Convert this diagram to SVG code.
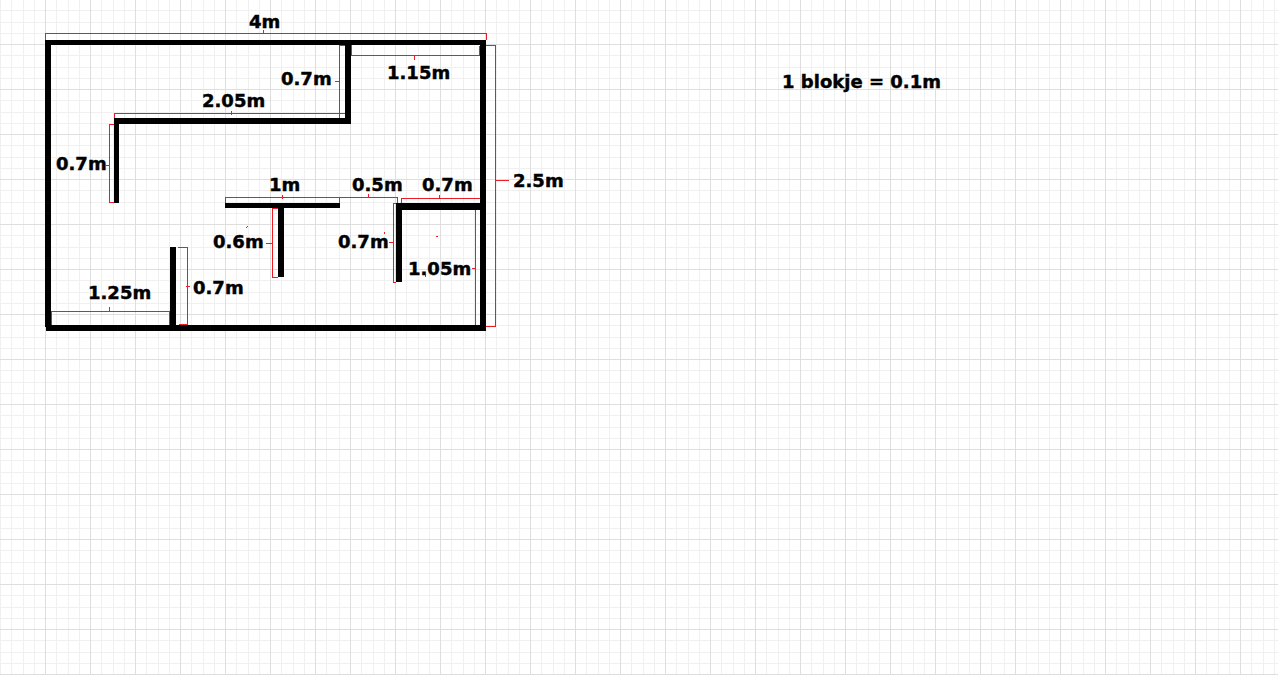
<svg xmlns="http://www.w3.org/2000/svg" width="1278" height="675" viewBox="0 0 1278 675">
<style>
.minor{fill:none;stroke:#f0f0f0;stroke-width:1;shape-rendering:crispEdges}
.major{fill:none;stroke:#dedede;stroke-width:1;shape-rendering:crispEdges}
.wall{fill:#000000;shape-rendering:crispEdges}
.dim{fill:none;stroke:#ed1c24;stroke-width:1;shape-rendering:crispEdges}
.lbl{font-family:"DejaVu Sans","Liberation Sans",sans-serif;font-weight:700;font-size:18px;fill:#000000;stroke:#000000;stroke-width:0.45}
</style>
<rect width="1278" height="675" fill="#ffffff"/>
<g id="grid">
<path class="minor" d="M0.5 0V675M11.5 0V675M23.5 0V675M34.5 0V675M56.5 0V675M68.5 0V675M79.5 0V675M101.5 0V675M113.5 0V675M124.5 0V675M146.5 0V675M158.5 0V675M169.5 0V675M191.5 0V675M203.5 0V675M214.5 0V675M236.5 0V675M248.5 0V675M259.5 0V675M281.5 0V675M293.5 0V675M304.5 0V675M326.5 0V675M339.5 0V675M361.5 0V675M373.5 0V675M384.5 0V675M406.5 0V675M418.5 0V675M429.5 0V675M451.5 0V675M463.5 0V675M474.5 0V675M496.5 0V675M508.5 0V675M519.5 0V675M541.5 0V675M553.5 0V675M564.5 0V675M586.5 0V675M598.5 0V675M609.5 0V675M631.5 0V675M643.5 0V675M654.5 0V675M676.5 0V675M688.5 0V675M699.5 0V675M721.5 0V675M733.5 0V675M744.5 0V675M766.5 0V675M778.5 0V675M789.5 0V675M811.5 0V675M823.5 0V675M834.5 0V675M856.5 0V675M868.5 0V675M879.5 0V675M901.5 0V675M913.5 0V675M924.5 0V675M946.5 0V675M958.5 0V675M969.5 0V675M991.5 0V675M1004.5 0V675M1026.5 0V675M1038.5 0V675M1049.5 0V675M1071.5 0V675M1083.5 0V675M1094.5 0V675M1116.5 0V675M1128.5 0V675M1139.5 0V675M1161.5 0V675M1173.5 0V675M1184.5 0V675M1206.5 0V675M1218.5 0V675M1229.5 0V675M1251.5 0V675M1263.5 0V675M1274.5 0V675"/>
<path class="minor" d="M0 10.5H1278M0 22.5H1278M0 33.5H1278M0 55.5H1278M0 67.5H1278M0 78.5H1278M0 100.5H1278M0 112.5H1278M0 123.5H1278M0 145.5H1278M0 157.5H1278M0 168.5H1278M0 190.5H1278M0 202.5H1278M0 213.5H1278M0 235.5H1278M0 247.5H1278M0 258.5H1278M0 280.5H1278M0 292.5H1278M0 303.5H1278M0 325.5H1278M0 337.5H1278M0 348.5H1278M0 370.5H1278M0 382.5H1278M0 393.5H1278M0 415.5H1278M0 427.5H1278M0 438.5H1278M0 460.5H1278M0 472.5H1278M0 483.5H1278M0 505.5H1278M0 517.5H1278M0 528.5H1278M0 550.5H1278M0 562.5H1278M0 573.5H1278M0 595.5H1278M0 607.5H1278M0 618.5H1278M0 640.5H1278M0 652.5H1278M0 663.5H1278"/>
<path class="major" d="M45.5 0V675M90.5 0V675M135.5 0V675M180.5 0V675M225.5 0V675M270.5 0V675M315.5 0V675M350.5 0V675M395.5 0V675M440.5 0V675M485.5 0V675M530.5 0V675M575.5 0V675M620.5 0V675M665.5 0V675M710.5 0V675M755.5 0V675M800.5 0V675M845.5 0V675M890.5 0V675M935.5 0V675M980.5 0V675M1015.5 0V675M1060.5 0V675M1105.5 0V675M1150.5 0V675M1195.5 0V675M1240.5 0V675"/>
<path class="major" d="M0 44.5H1278M0 89.5H1278M0 134.5H1278M0 179.5H1278M0 224.5H1278M0 269.5H1278M0 314.5H1278M0 359.5H1278M0 404.5H1278M0 449.5H1278M0 494.5H1278M0 539.5H1278M0 584.5H1278M0 629.5H1278M0 674.5H1278"/>
</g>
<g id="connectors">
<path class="dim" d="M45.5 40V33.5H486.5V40M263.5 30V34"/>
<path class="dim" d="M114.5 119V113.5H346.5V118M231.5 111V115"/>
<path class="dim" d="M114 124.5H109.5V202.5H114M106 165.5H109"/>
<path class="dim" d="M345 45.5H339.5V118.5H345M335 81.5H339"/>
<path class="dim" d="M351.5 45V55.5H479.5V46M414.5 55V60"/>
<path class="dim" d="M486 45.5H495.5V326.5H486M496 180.5H509"/>
<path class="dim" d="M225.5 203V197.5H339.5V203M282.5 195V199"/>
<path class="dim" d="M339.5 197.5H397.5V203M368.5 194V198"/>
<path class="dim" d="M401.5 203V198.5H480.5V203M439.5 195V199"/>
<path class="dim" d="M278 208.5H272.5V277.5H278M266 243.5H272"/>
<path class="dim" d="M178 247.5H187.5V324.5H179M186 286.5H190"/>
<path class="dim" d="M51.5 325V311.5H169.5V325M109.5 307V311"/>
<path class="dim" d="M396 203.5H393.5V282.5H396M389 242.5H393"/>
<path class="dim" d="M480 208.5H475.5V325.5H480M472 268.5H475"/>
<path class="dim" d="M246 227.5H247M247 226.5H248M384.5 232V234M436 236.5H438M425.5 275V277"/>
</g>
<g id="walls">
<g id="outer-wall"><rect class="wall" x="45" y="40" width="441" height="5"/><rect class="wall" x="45" y="40" width="6" height="287"/><rect class="wall" x="480" y="40" width="6" height="291"/><rect class="wall" x="46" y="325" width="440" height="6"/></g>
<g id="upper-wall"><rect class="wall" x="345" y="45" width="6" height="79"/><rect class="wall" x="114" y="118" width="237" height="6"/><rect class="wall" x="114" y="118" width="5" height="85"/></g>
<g id="t-wall"><rect class="wall" x="225" y="203" width="115" height="5"/><rect class="wall" x="278" y="203" width="6" height="74"/></g>
<g id="bottom-wall"><rect class="wall" x="170" y="247" width="6" height="78"/></g>
<g id="room-wall"><rect class="wall" x="396" y="203" width="84" height="7"/><rect class="wall" x="396" y="203" width="6" height="79"/></g>
</g>
<g id="labels">
<text class="lbl" x="249" y="28">4m</text>
<text class="lbl" x="202" y="107">2.05m</text>
<text class="lbl" x="281" y="85">0.7m</text>
<text class="lbl" x="387" y="79">1.15m</text>
<text class="lbl" x="56" y="170">0.7m</text>
<text class="lbl" x="269" y="191">1m</text>
<text class="lbl" x="352" y="191">0.5m</text>
<text class="lbl" x="422" y="191">0.7m</text>
<text class="lbl" x="513" y="187">2.5m</text>
<text class="lbl" x="213" y="248">0.6m</text>
<text class="lbl" x="338" y="248">0.7m</text>
<text class="lbl" x="408" y="275">1.05m</text>
<text class="lbl" x="193" y="294">0.7m</text>
<text class="lbl" x="88" y="299">1.25m</text>
<text class="lbl" x="782" y="88" textLength="159">1 blokje = 0.1m</text>
</g>
</svg>
